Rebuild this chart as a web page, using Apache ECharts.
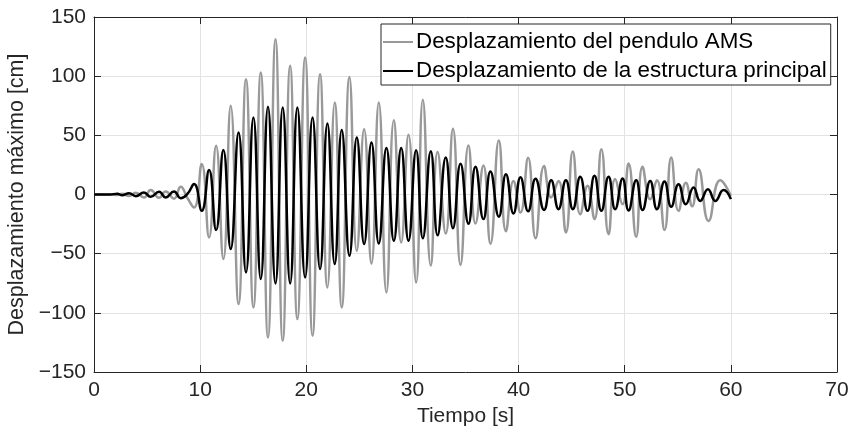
<!DOCTYPE html>
<html>
<head>
<meta charset="utf-8">
<script src="https://cdn.jsdelivr.net/npm/echarts@6/dist/echarts.min.js"></script>
<style>
html,body{margin:0;padding:0;background:#fff;}
#chart{width:854px;height:443px;}
</style>
</head>
<body>
<div id="chart"></div>
<script>
// Time stamps (s) of the readings for each series
var tMain = [0, 1.5, 2.2, 2.65, 3.3, 3.93, 4.71, 5.34, 6.13, 6.75, 7.54, 8.17, 8.8, 9.43, 10.15, 10.84, 11.50, 12.19, 12.88, 13.62, 14.32, 15.02, 15.71, 16.39, 17.10, 17.78, 18.48, 19.16, 19.89, 20.59, 21.30, 21.99, 22.68, 23.34, 24.07, 24.76, 25.45, 26.14, 26.83, 27.55, 28.25, 28.94, 29.63, 30.35, 30.98, 31.73, 32.37, 33.14, 33.82, 34.53, 35.28, 35.94, 36.69, 37.35, 38.14, 38.81, 39.52, 40.18, 40.90, 41.60, 42.40, 43.07, 43.76, 44.46, 45.11, 45.81, 46.50, 47.15, 47.80, 48.48, 49.10, 49.80, 50.36, 51.08, 51.68, 52.40, 53.03, 53.75, 54.38, 55.07, 55.76, 56.49, 57.11, 57.84, 58.53, 59.31, 60.0];
var main = [0, 0, 0.6, -0.6, 1.1, -1.4, 1.7, -2.0, 2.3, -2.5, 2.5, -3.1, 0.5, 8.8, -13.8, 20.6, -30.1, 37.5, -46.1, 52.4, -65.9, 65.0, -71.5, 74.1, -75.2, 73.5, -75.2, 73.5, -70.1, 65.0, -63.0, 60.0, -58.8, 54.6, -51.8, 48.1, -41.9, 43.9, -41.4, 39.2, -39.1, 39.2, -39.1, 37.5, -37.0, 36.5, -34.5, 31.3, -28.5, 26, -24.7, 23.5, -20.8, 19.4, -18.7, 17.2, -16, 14.6, -14.2, 13.4, -13, 12.1, -12.4, 12.1, -12.4, 14.9, -13.8, 15.8, -13.8, 14.9, -12.4, 13.5, -13.5, 12.1, -13.2, 11.5, -12.4, 11.0, -10.4, 8.7, -8.2, 5.9, -5.4, 4.5, -5.4, 3.7, -3.9];

var tAms = [0, 1.5, 2.2, 2.65, 3.3, 3.93, 4.71, 5.34, 6.13, 6.75, 7.54, 8.17, 8.8, 9.43, 10.15, 10.84, 11.50, 12.19, 12.88, 13.62, 14.32, 15.02, 15.71, 16.39, 17.10, 17.78, 18.48, 19.16, 19.89, 20.59, 21.30, 21.99, 22.68, 23.34, 24.07, 24.76, 25.45, 26.14, 26.83, 27.55, 28.25, 28.94, 29.63, 30.35, 30.98, 31.73, 32.37, 33.14, 33.82, 34.53, 35.28, 35.94, 36.69, 37.35, 38.14, 38.81, 39.52, 40.18, 40.90, 41.60, 42.40, 43.07, 43.76, 44.46, 45.11, 45.81, 46.50, 47.15, 47.80, 48.48, 49.10, 49.80, 50.36, 51.08, 51.68, 52.40, 53.03, 53.75, 54.38, 55.07, 55.76, 56.35, 56.96, 57.90, 59.0, 60.0];
var ams = [0, 0, -0.4, 0.6, -1.2, 1.5, -2.5, 3.7, -2.8, 2.5, -3.5, 6.5, -3, -11, 25.7, -36.3, 41.1, -54.6, 74.9, -92.6, 97.5, -95.4, 103, -120.8, 131.2, -123.6, 108.7, -105.2, 115.7, -119.3, 101.7, -78.5, 77.7, -95.4, 99.4, -47.6, 55.2, -58.3, 77.7, -82.8, 62.8, -40.5, 50.4, -74.3, 80, -60, 36, -33, 55.5, -59.5, 41.5, -24.5, 24.5, -41.6, 45.6, -31, 11.5, -15.2, 31, -37, 24, -2.5, 11.5, -32.1, 36.3, -16.6, 7.3, -20.8, 38.3, -33.5, 13, -8.2, 26.2, -35.8, 23.4, -4, 12.1, -30.1, 31.3, -13.8, 10, -10, 21.4, -22.3, 12.1, -1];

var seriesNames = ['Desplazamiento del pendulo AMS', 'Desplazamiento de la estructura principal'];
var xTitle = 'Tiempo [s]';
var yTitle = 'Desplazamiento máximo [cm]';

function pairs(t, v) { return t.map(function (x, i) { return [x, v[i]]; }); }
function tickFmt(v) { return v < 0 ? '\u2212' + Math.abs(v) : String(v); }

var FONT = '"Liberation Sans", Arial, Helvetica, sans-serif';
var AX = '#262626';
var chart = echarts.init(document.getElementById('chart'), null, { renderer: 'canvas' });

var commonAxis = {
  axisLine: { show: true, onZero: false, lineStyle: { color: AX, width: 1 } },
  axisTick: { show: true, inside: true, length: 7, lineStyle: { color: AX, width: 1 } },
  splitLine: { show: false },
  axisLabel: { show: false }
};

chart.setOption({
  animation: false,
  backgroundColor: '#ffffff',
  grid: { left: 94, right: 17, top: 17, bottom: 71, containLabel: false, outerBoundsMode: 'none' },
  legend: {
    data: seriesNames,
    orient: 'vertical',
    left: 381, top: 24,
    padding: [7, 4, 3, 2],
    itemGap: 7,
    itemWidth: 30, itemHeight: 2,
    icon: 'rect',
    borderColor: AX, borderWidth: 1, borderRadius: 0,
    backgroundColor: '#ffffff',
    textStyle: { fontFamily: FONT, fontSize: 22.4, color: '#000', lineHeight: 22, padding: [0, 0, 0, -2] }
  },
  xAxis: [
    {
      type: 'value', min: 0, max: 70, interval: 10, position: 'bottom',
      name: xTitle, nameLocation: 'middle', nameGap: 34,
      nameTextStyle: { fontFamily: FONT, fontSize: 21, color: AX },
      axisLine: { show: true, onZero: false, lineStyle: { color: AX, width: 1 } },
      axisTick: { show: true, inside: true, length: 7, lineStyle: { color: AX } },
      axisLabel: { fontFamily: FONT, fontSize: 21, color: AX, margin: 8, formatter: tickFmt },
      splitLine: { show: true, lineStyle: { color: '#e3e3e3', width: 1 } }
    },
    Object.assign({ type: 'value', min: 0, max: 70, interval: 10, position: 'top' }, commonAxis)
  ],
  yAxis: [
    {
      type: 'value', min: -150, max: 150, interval: 50, position: 'left',
      name: yTitle, nameLocation: 'middle', nameGap: 61,
      nameTextStyle: { fontFamily: FONT, fontSize: 21.5, color: AX },
      axisLine: { show: true, onZero: false, lineStyle: { color: AX, width: 1 } },
      axisTick: { show: true, inside: true, length: 7, lineStyle: { color: AX } },
      axisLabel: { fontFamily: FONT, fontSize: 21, color: AX, margin: 8, formatter: tickFmt },
      splitLine: { show: true, lineStyle: { color: '#e3e3e3', width: 1 } }
    },
    Object.assign({ type: 'value', min: -150, max: 150, interval: 50, position: 'right' }, commonAxis)
  ],
  series: [
    {
      name: seriesNames[0], type: 'line', data: pairs(tAms, ams),
      smooth: 0.5, showSymbol: false, symbol: 'none',
      lineStyle: { color: '#999999', width: 2.5 },
      itemStyle: { color: '#999999' }, z: 2
    },
    {
      name: seriesNames[1], type: 'line', data: pairs(tMain, main),
      smooth: 0.5, showSymbol: false, symbol: 'none',
      lineStyle: { color: '#000000', width: 2.5 },
      itemStyle: { color: '#000000' }, z: 3
    }
  ]
});
</script>
</body>
</html>
